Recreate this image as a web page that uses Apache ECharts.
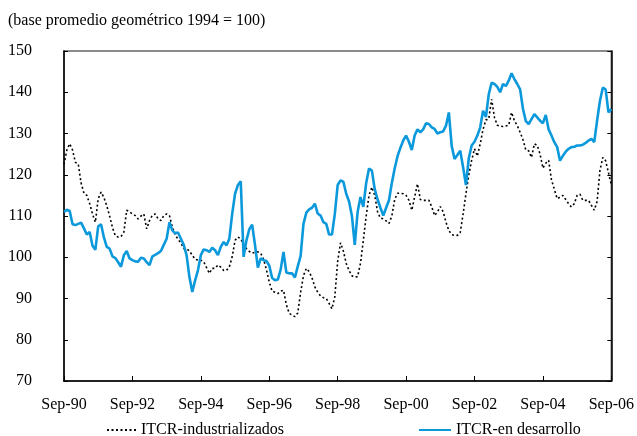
<!DOCTYPE html>
<html lang="es">
<head>
    <meta charset="UTF-8">
    <title>ITCR</title>
    <style>
        html, body { margin: 0; padding: 0; background: #fff; }
    </style>
</head>
<body>
<div id="main" style="width: 637px;height:436px;"></div>
<script src="https://cdn.jsdelivr.net/npm/echarts@6/dist/echarts.min.js"></script>
<script type="text/javascript">
    // meses desde Sep-90 hasta Sep-06
    var mesesNombre = ["Sep", "Oct", "Nov", "Dic", "Ene", "Feb", "Mar", "Abr", "May", "Jun", "Jul", "Ago"];
    var anioInicio = 1990;
    var anioFin = 2006;

    var meses = [];
    for (var a = anioInicio; a < anioFin; a++) {
        for (var i = 0; i < 12; i++) {
            var y = i < 4 ? a : a + 1;
            meses.push(mesesNombre[i] + "-" + String(y).slice(2));
        }
    }
    meses.push("Sep-" + String(anioFin).slice(2));

    // ITCR-industrializados (punteada)
    var industrializados = [
        122.5, 126.0, 127.5, 126.0, 123.0, 122.6, 118.0, 115.5, 115.0, 113.0, 110.5, 108.5,
        114.2, 115.8, 114.5, 112.5, 110.0, 107.2, 105.2, 104.9, 105.0, 106.1, 111.4, 111.0,
        110.5, 110.1, 109.3, 110.0, 110.5, 106.9, 108.9, 110.2, 110.5, 109.3, 108.9, 110.1,
        110.5, 110.1, 107.3, 105.5, 104.3, 103.5, 102.1, 102.1, 101.5, 100.5, 99.5, 99.3,
        99.3, 98.9, 97.5, 96.1, 97.3, 97.3, 98.1, 97.6, 96.8, 96.8, 97.7, 100.1,
        104.1, 104.9, 104.5, 103.0, 102.1, 101.4, 101.0, 101.2, 101.3, 101.0, 99.5, 97.0,
        94.0, 91.8, 91.5, 91.2, 91.8, 92.0, 88.5, 86.4, 86.0, 85.6, 86.5, 91.5,
        95.5, 97.3, 96.5, 95.0, 92.8, 91.5, 90.6, 90.2, 90.0, 88.8, 87.5, 90.4,
        99.0, 103.5, 101.5, 98.5, 96.8, 95.5, 95.2, 95.3, 98.5, 104.1, 110.0, 115.0,
        117.0, 115.0, 111.0, 109.5, 109.3, 108.8, 108.2, 110.0, 114.0, 115.5, 115.5, 115.4,
        115.0, 113.8, 111.4, 114.6, 117.8, 114.0, 113.8, 113.8, 113.8, 112.2, 110.1, 111.0,
        112.3, 111.0, 108.5, 106.5, 105.5, 105.3, 105.3, 106.0, 110.5, 115.4, 120.0, 123.5,
        126.3, 124.5, 127.5, 131.0, 133.3, 133.5, 138.3, 133.9, 132.0, 131.8, 131.7, 131.8,
        132.0, 135.1, 133.1, 131.9, 130.3, 128.5, 126.0, 125.8, 124.2, 127.5, 127.1, 125.0,
        121.6, 122.8, 123.5, 118.8, 116.5, 114.2, 114.6, 115.0, 114.0, 113.0, 112.2, 113.0,
        115.0, 115.3, 113.8, 113.8, 113.8, 112.6, 111.4, 113.5, 121.0, 124.2, 123.4, 120.5,
        117.5
    ];

    // ITCR-en desarrollo (azul)
    var enDesarrollo = [
        111.0, 111.5, 111.2, 108.0, 107.8, 108.1, 108.4, 107.0, 105.5, 106.1, 102.8, 101.8,
        107.5, 108.0, 104.8, 102.5, 102.1, 100.2, 99.8, 98.8, 97.7, 100.5, 101.5, 99.7,
        99.3, 99.0, 98.9, 99.9, 99.7, 98.8, 98.1, 100.2, 100.6, 101.0, 101.5, 103.0,
        104.5, 108.5, 106.5, 105.8, 106.0, 104.5, 103.0, 100.5, 95.2, 91.6, 94.4, 96.9,
        100.5, 101.9, 101.7, 101.3, 102.3, 101.7, 100.5, 102.5, 103.7, 102.9, 104.5, 110.5,
        115.4, 117.5, 118.4, 100.1, 104.1, 106.8, 107.9, 103.0, 97.5, 99.7, 99.3, 99.1,
        98.0, 95.0, 94.4, 94.6, 97.0, 101.3, 96.3, 96.1, 96.1, 95.1, 97.8, 100.3,
        108.1, 110.8, 111.6, 112.0, 113.0, 110.6, 110.1, 108.5, 108.1, 105.5, 105.5, 110.5,
        117.5, 118.6, 118.3, 115.4, 113.5, 110.0, 103.0, 111.0, 114.6, 112.2, 118.0, 121.5,
        121.0, 116.5, 114.0, 112.0, 110.1, 112.0, 113.8, 118.0, 121.5, 124.5, 126.5, 128.3,
        129.5, 128.0, 126.0, 129.5, 131.0, 130.3, 131.0, 132.5, 132.3, 131.5, 131.1, 130.0,
        130.3, 130.5, 131.9, 135.1, 127.0, 123.8, 124.8, 125.8, 121.8, 117.5, 124.0, 127.1,
        128.0, 129.5, 131.5, 135.5, 134.0, 139.5, 142.3, 142.0, 141.3, 140.0, 142.0, 141.5,
        142.8, 144.6, 143.2, 142.0, 140.7, 136.0, 133.0, 132.3, 133.5, 134.7, 133.9, 133.1,
        132.5, 134.5, 131.0, 129.5, 127.9, 126.7, 123.4, 124.6, 125.6, 126.3, 126.7, 126.8,
        127.1, 127.1, 127.3, 127.7, 128.3, 128.7, 127.9, 133.1, 137.9, 141.1, 140.7, 135.1,
        135.9
    ];

    var fuente = "Liberation Serif";

    var myChart = echarts.init(document.getElementById("main"));

    var option = {
        animation: false,
        backgroundColor: "#fff",
        title: {
            text: "(base promedio geométrico 1994 = 100)",
            left: 3,
            top: 8,
            textStyle: {
                fontFamily: fuente,
                fontSize: 16,
                fontWeight: "normal",
                color: "#000"
            }
        },
        grid: {
            left: 64,
            right: 24,
            top: 51,
            bottom: 55,
            show: true,
            borderColor: "#666",
            borderWidth: 1.5
        },
        legend: [
            {
                data: ["ITCR-industrializados"],
                left: 101,
                top: 417,
                itemWidth: 29,
                itemHeight: 10,
                itemGap: 8,
                itemStyle: { opacity: 0 },
                textStyle: { fontFamily: fuente, fontSize: 16, color: "#000" }
            },
            {
                data: ["ITCR-en desarrollo"],
                left: 413,
                top: 417,
                itemWidth: 32,
                itemHeight: 10,
                itemGap: 6,
                itemStyle: { opacity: 0 },
                textStyle: { fontFamily: fuente, fontSize: 16, color: "#000" }
            }
        ],
        xAxis: {
            type: "category",
            data: meses,
            boundaryGap: false,
            axisLine: { lineStyle: { color: "#000", width: 1.5 } },
            axisTick: {
                inside: true,
                length: 5,
                interval: 23,
                lineStyle: { color: "#000" }
            },
            axisLabel: {
                interval: 23,
                margin: 16,
                fontFamily: fuente,
                fontSize: 16,
                color: "#000"
            },
            splitLine: { show: false }
        },
        yAxis: [
            {
                type: "value",
                min: 70,
                max: 150,
                interval: 10,
                axisLine: { show: true, lineStyle: { color: "#000", width: 1.5 } },
                axisTick: { show: true, inside: true, length: 4, lineStyle: { color: "#000" } },
                axisLabel: {
                    margin: 32,
                    fontFamily: fuente,
                    fontSize: 16,
                    color: "#000"
                },
                splitLine: { show: false }
            },
            {
                type: "value",
                position: "right",
                min: 70,
                max: 150,
                interval: 10,
                axisLine: { show: true, lineStyle: { color: "#000", width: 1.5 } },
                axisTick: { show: true, inside: true, length: 4, lineStyle: { color: "#000" } },
                axisLabel: { show: false },
                splitLine: { show: false }
            }
        ],
        series: [
            {
                name: "ITCR-industrializados",
                type: "line",
                data: industrializados,
                symbol: "none",
                lineStyle: {
                    color: "#000",
                    width: 1.6,
                    type: [2, 2.5]
                },
                itemStyle: { color: "#000" },
                z: 3
            },
            {
                name: "ITCR-en desarrollo",
                type: "line",
                data: enDesarrollo,
                symbol: "none",
                lineStyle: {
                    color: "#0b99dc",
                    width: 2.6
                },
                itemStyle: { color: "#0b99dc" },
                z: 4
            }
        ]
    };

    myChart.setOption(option);
</script>
</body>
</html>
